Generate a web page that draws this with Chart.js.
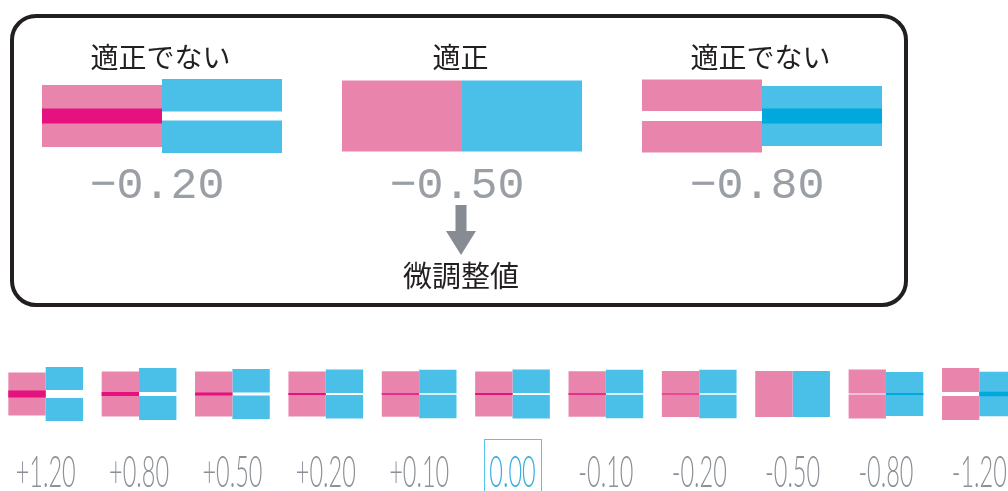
<!DOCTYPE html>
<html lang="ja">
<head>
<meta charset="utf-8">
<title>色ずれ補正</title>
<script src="https://cdn.jsdelivr.net/npm/chart.js@4.4.1/dist/chart.umd.min.js"></script>
<style>
  html, body { margin: 0; padding: 0; width: 1008px; height: 491px; overflow: hidden; background: #fff; }
  #frame { position: absolute; left: 10px; top: 14px; width: 890px; height: 285px;
           border: 4px solid #231f20; border-radius: 26px; }
  #top-chart { position: absolute; left: 12px; top: 0; }
  #bottom-chart { position: absolute; left: -1px; top: 320px; }
</style>
</head>
<body>
<div id="frame"></div>
<canvas id="top-chart" width="900" height="320"></canvas>
<canvas id="bottom-chart" width="1027" height="171"></canvas>
<script>
// Colour registration check patterns: pink block on the left, blue block on the right.
// "over" > 0 means the two halves overlap (dark line), < 0 means a white gap.

// --- upper panel (3 samples) ---
const topValues   = ["-0.20", "-0.50", "-0.80"];
const topStates   = ["適正でない", "適正", "適正でない"];
const topPinkHalf = [38.5, 35.5, 31.5];
const topPinkOver = [15, 0, -10];
const topBlueHalf = [32.5, 35.5, 37.5];
const topBlueOver = [-9, 0, 15];
const arrowLabel  = "微調整値";

// --- lower row (11 samples) ---
const bottomValues = ["+1.20", "+0.80", "+0.50", "+0.20", "+0.10", "0.00",
                      "-0.10", "-0.20", "-0.50", "-0.80", "-1.20"];
const botPinkHalf  = [25, 24.5, 24, 23.5, 23.5, 23.5, 23.5, 23.5, 23, 24, 24];
const botPinkOver  = [7, 4, 3, 2, 1.5, 2, 1.5, 1, 0, -1, -4];
const botBlueHalf  = [23, 24, 23.5, 23.5, 23.5, 23.5, 23.5, 23.5, 23, 23, 24.5];
const botBlueOver  = [-8, -4, -3, -2, -1.5, -2, -1.5, -1.5, 0, 2, 4.5];
const selectedValue = "0.00";

const PINK      = "#e985ad";
const PINK_DARK = "#e5117f";
const BLUE      = "#4ac0e8";
const BLUE_DARK = "#00a8dc";
const GRAY      = "#8b9096";
const INK       = "#231f20";

function buildDatasets(pinkHalf, pinkOver, blueHalf, blueOver) {
  const ds = (label, stack, color, data) => ({
    label, stack, data,
    backgroundColor: color,
    borderWidth: 0,
    categoryPercentage: 0.8,
    barPercentage: 1,
  });
  const line  = (over) => over.map(o => o > 0 ? [-o / 2, o / 2] : null);
  const upper = (half, over) => half.map((h, i) => [-over[i] / 2, h - over[i] / 2]);
  const lower = (half, over) => half.map((h, i) => [over[i] / 2 - h, over[i] / 2]);
  // index 0 is drawn on top, so the overlap lines come first
  return [
    ds("pink-line",  "p", PINK_DARK, line(pinkOver)),
    ds("blue-line",  "b", BLUE_DARK, line(blueOver)),
    ds("pink-upper", "p", PINK, upper(pinkHalf, pinkOver)),
    ds("pink-lower", "p", PINK, lower(pinkHalf, pinkOver)),
    ds("blue-upper", "b", BLUE, upper(blueHalf, blueOver)),
    ds("blue-lower", "b", BLUE, lower(blueHalf, blueOver)),
  ];
}

function baseOptions(yMin, yMax) {
  return {
    responsive: false,
    animation: false,
    events: [],
    layout: { padding: 0 },
    plugins: { legend: { display: false }, tooltip: { enabled: false } },
    scales: {
      x: { display: false, stacked: true },
      y: { display: false, stacked: false, min: yMin, max: yMax },
    },
  };
}

const topText = {
  id: "topText",
  afterDatasetsDraw(chart) {
    const { ctx, scales: { x } } = chart;
    ctx.save();
    ctx.textAlign = "center";
    topValues.forEach((v, i) => {
      const cx = x.getPixelForValue(i);
      ctx.fillStyle = INK;
      ctx.font = '28px "Noto Sans CJK JP"';
      ctx.textBaseline = "middle";
      ctx.fillText(topStates[i], cx - 1.5, 57);
      ctx.fillStyle = "#9a9fa5";
      ctx.font = '45px "Liberation Mono"';
      ctx.textBaseline = "alphabetic";
      ctx.fillText(v.replace("-", "\u2212"), cx - 5, 198);
    });
    // arrow from the correct sample down to its label
    const ax = x.getPixelForValue(topStates.indexOf("適正")) - 1;
    ctx.fillStyle = "#868c92";
    ctx.fillRect(ax - 5.5, 205, 11, 27);
    ctx.beginPath();
    ctx.moveTo(ax - 15, 231);
    ctx.lineTo(ax + 15, 231);
    ctx.lineTo(ax, 255);
    ctx.closePath();
    ctx.fill();
    ctx.fillStyle = INK;
    ctx.font = '29px "Noto Sans CJK JP"';
    ctx.textBaseline = "middle";
    ctx.fillText(arrowLabel, ax, 276);
    ctx.restore();
  },
};

const bottomText = {
  id: "bottomText",
  afterDatasetsDraw(chart) {
    const { ctx, scales: { x } } = chart;
    ctx.save();
    ctx.textAlign = "center";
    ctx.textBaseline = "alphabetic";
    ctx.font = '300 44px "Lato", "DejaVu Sans"';
    const sx = 60 / ctx.measureText("+1.20").width;
    bottomValues.forEach((v, i) => {
      const cx = x.getPixelForValue(i);
      const picked = v === selectedValue;
      if (picked) {
        ctx.strokeStyle = "#5bc3ea";
        ctx.lineWidth = 1;
        ctx.strokeRect(cx - 28, 119.5, 57, 70);
      }
      ctx.save();
      ctx.translate(cx, 167);
      ctx.scale(sx, 1);
      ctx.fillStyle = picked ? "#35aee0" : GRAY;
      ctx.fillText(v, 0, 0);
      ctx.restore();
    });
    ctx.restore();
  },
};

new Chart(document.getElementById("top-chart"), {
  type: "bar",
  data: { labels: topValues, datasets: buildDatasets(topPinkHalf, topPinkOver, topBlueHalf, topBlueOver) },
  options: baseOptions(-204, 116),
  plugins: [topText],
});

new Chart(document.getElementById("bottom-chart"), {
  type: "bar",
  data: { labels: bottomValues, datasets: buildDatasets(botPinkHalf, botPinkOver, botBlueHalf, botBlueOver) },
  options: baseOptions(-97, 74),
  plugins: [bottomText],
});
</script>
</body>
</html>
